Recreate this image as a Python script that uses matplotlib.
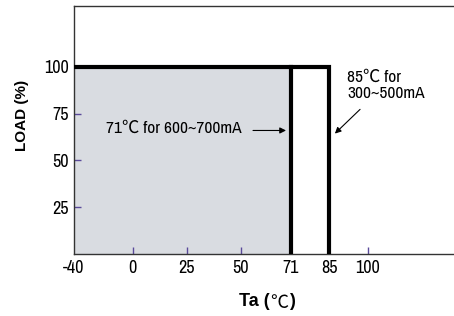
import numpy as np
import matplotlib
matplotlib.use("Agg")
import matplotlib.pyplot as plt
from matplotlib.scale import FuncScale

# data
x_ticks = [-40, 0, 25, 50, 71, 85, 100]
x_tick_labels = ["-40", "0", "25", "50", "71", "85", "100"]
y_ticks = [25, 50, 75, 100]
y_tick_labels = ["25", "50", "75", "100"]
curve_85_x = [-40, 85, 85]
curve_85_y = [100, 100, 0]
curve_71_x = [71, 71]
curve_71_y = [100, 0]
fill_x = [-40, 71]
fill_top = [100, 100]

# piecewise axis (non-linear spacing in the original drawing)
temp_bp = np.array([-40, 0, 25, 50, 71, 85, 100, 134])
pos_bp = np.array([74.0, 132.7, 186.7, 240.7, 290.7, 329.3, 367.7, 454.0])

def fwd(t):
    t = np.asarray(t, dtype=float)
    out = np.interp(t, temp_bp, pos_bp)
    out = np.where(t < temp_bp[0], pos_bp[0] + (t - temp_bp[0]), out)
    out = np.where(t > temp_bp[-1], pos_bp[-1] + (t - temp_bp[-1]), out)
    return out

def inv(p):
    p = np.asarray(p, dtype=float)
    out = np.interp(p, pos_bp, temp_bp)
    out = np.where(p < pos_bp[0], temp_bp[0] + (p - pos_bp[0]), out)
    out = np.where(p > pos_bp[-1], temp_bp[-1] + (p - pos_bp[-1]), out)
    return out

fam = ['Archivo Narrow', 'Noto Sans CJK JP', 'DejaVu Sans']
plt.rcParams['font.family'] = fam

fig = plt.figure(figsize=(4.54, 3.16), dpi=100)
ax = fig.add_axes([74/454, 1 - 254/316, 1 - 74/454, 248/316])
ax.set_xscale(FuncScale(ax, (fwd, inv)))
ax.set_xlim(-40, 134)
ax.set_ylim(0, 132.5)

ax.fill_between(fill_x, 0, fill_top, color='#d9dce1', lw=0, zorder=1)
ax.plot(curve_85_x, curve_85_y, color='black', lw=3.0, solid_joinstyle='miter', zorder=3)
ax.plot(curve_71_x, curve_71_y, color='black', lw=3.0, zorder=3)

for s in ['left', 'bottom', 'top']:
    ax.spines[s].set_color('#333333')
    ax.spines[s].set_linewidth(1.0)
ax.spines['right'].set_visible(False)

ax.set_xticks(x_ticks)
ax.set_xticklabels(x_tick_labels, fontsize=13)
ax.set_yticks(y_ticks)
ax.set_yticklabels(y_tick_labels, fontsize=13)
ax.minorticks_off()
ax.tick_params(axis='both', direction='in', length=5, width=1, color='#5a4a9a', pad=4)
for t in ax.xaxis.get_major_ticks():
    if t.get_loc() in (-40, 71, 85):
        t.tick1line.set_visible(False)
for t in ax.yaxis.get_major_ticks():
    if t.get_loc() == 100:
        t.tick1line.set_visible(False)

ax.set_ylabel("LOAD (%)", fontsize=11, fontweight='bold', family=['Liberation Sans', 'DejaVu Sans'])
ax.yaxis.set_label_coords(-0.118, 0.56)

# x label: "Ta (" bold, "℃" regular, ")" bold
fig.canvas.draw()
r = fig.canvas.get_renderer()
y_lab = 1 - 302/316
x0 = 239
t1 = fig.text(x0/454, y_lab, "Ta (", fontsize=13, fontweight='bold', ha='left', va='center',
              family=['Liberation Sans', 'DejaVu Sans'])
w1 = t1.get_window_extent(r).width
t2 = fig.text((x0 + w1 + 1)/454, y_lab - 0.003, "℃", fontsize=13, ha='left', va='center',
              family=['Noto Sans CJK JP', 'DejaVu Sans'])
w2 = t2.get_window_extent(r).width
t3 = fig.text((x0 + w1 + w2 + 1)/454, y_lab, ")", fontsize=13, fontweight='bold', ha='left', va='center',
              family=['Liberation Sans', 'DejaVu Sans'])

ax.annotate("", xy=(70.2, 66), xytext=(54, 66),
            arrowprops=dict(arrowstyle='-|>', color='black', lw=0.8, mutation_scale=9))
ax.text(-18.2, 67, "71℃ for 600~700mA", fontsize=12.5, va='center', ha='left', family=fam)

ax.annotate("", xy=(86.4, 63.3), xytext=(97.8, 78.3),
            arrowprops=dict(arrowstyle='-|>', color='black', lw=0.8, mutation_scale=9))
ax.text(92.0, 90, "85℃ for\n300~500mA", fontsize=12.5, va='center', ha='left', linespacing=1.05, family=fam)

fig.savefig("out.png", dpi=100)
